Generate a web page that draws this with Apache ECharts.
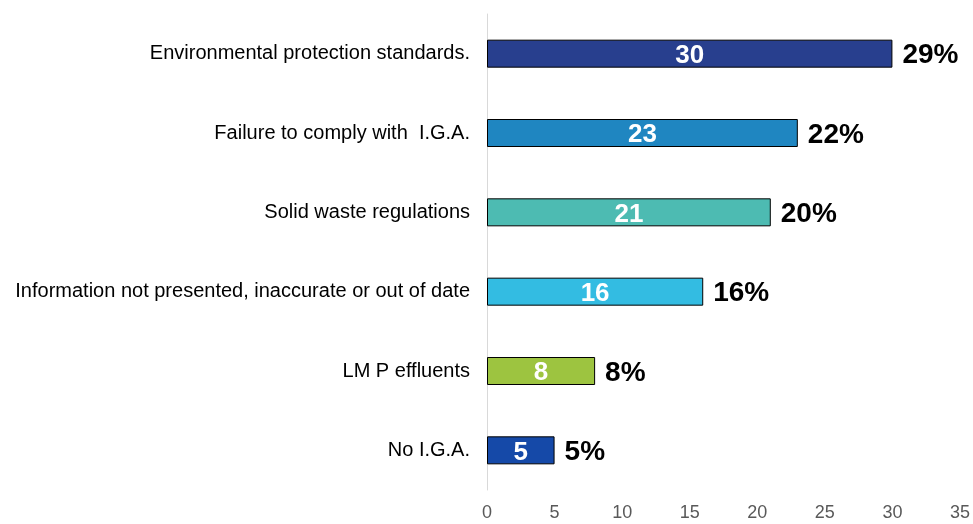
<!DOCTYPE html>
<html>
<head>
<meta charset="utf-8">
<script src="https://cdn.jsdelivr.net/npm/echarts@6/dist/echarts.min.js"></script>
<style>
  html, body { margin: 0; padding: 0; background: #fff; }
  #chart { width: 973px; height: 524px; }
</style>
</head>
<body>
<div id="chart"></div>
<script>
var categories = [
  'Environmental protection standards.',
  'Failure to comply with  I.G.A.',
  'Solid waste regulations',
  'Information not presented, inaccurate or out of date',
  'LM P effluents',
  'No I.G.A.'
];
var counts = [30, 23, 21, 16, 8, 5];
var percents = ['29%', '22%', '20%', '16%', '8%', '5%'];
var barColors = ['#283F8E', '#1F86C1', '#4DBBB2', '#33BCE2', '#9DC440', '#1549A8'];
var xTicks = [0, 5, 10, 15, 20, 25, 30, 35];

var chart = echarts.init(document.getElementById('chart'));

// categories listed top to bottom, so the axis is inverted
var option = {
  animation: false,
  grid: { left: 487, right: 13, top: 14, bottom: 34, containLabel: false },
  xAxis: {
    type: 'value',
    min: xTicks[0],
    max: xTicks[xTicks.length - 1],
    interval: 5,
    axisLine: { show: false },
    axisTick: { show: false },
    splitLine: { show: false },
    axisLabel: {
      color: '#595959',
      fontFamily: 'Liberation Sans, Arial, sans-serif',
      fontSize: 18,
      margin: 14
    }
  },
  yAxis: {
    type: 'category',
    inverse: true,
    data: categories,
    axisLine: { show: true, lineStyle: { color: '#d9d9d9', width: 1 } },
    axisTick: { show: false },
    axisLabel: {
      color: '#000',
      fontFamily: 'Liberation Sans, Arial, sans-serif',
      fontSize: 20,
      margin: 17
    }
  },
  series: [
    {
      type: 'bar',
      barWidth: 28,
      data: counts.map(function (v, i) {
        return { value: v, itemStyle: { color: barColors[i] } };
      }),
      itemStyle: { borderColor: '#000', borderWidth: 1 },
      label: {
        show: true,
        position: 'inside',
        offset: [0, 2],
        color: '#fff',
        fontWeight: 'bold',
        fontSize: 26,
        fontFamily: 'Liberation Sans, Arial, sans-serif'
      },
      z: 2
    },
    {
      type: 'bar',
      barWidth: 28,
      barGap: '-100%',
      data: counts,
      itemStyle: { color: 'transparent' },
      silent: true,
      label: {
        show: true,
        position: 'right',
        distance: 10,
        offset: [0, 2],
        color: '#000',
        fontWeight: 'bold',
        fontSize: 28,
        fontFamily: 'Liberation Sans, Arial, sans-serif',
        formatter: function (p) { return percents[p.dataIndex]; }
      },
      z: 1
    }
  ]
};

chart.setOption(option);
</script>
</body>
</html>
